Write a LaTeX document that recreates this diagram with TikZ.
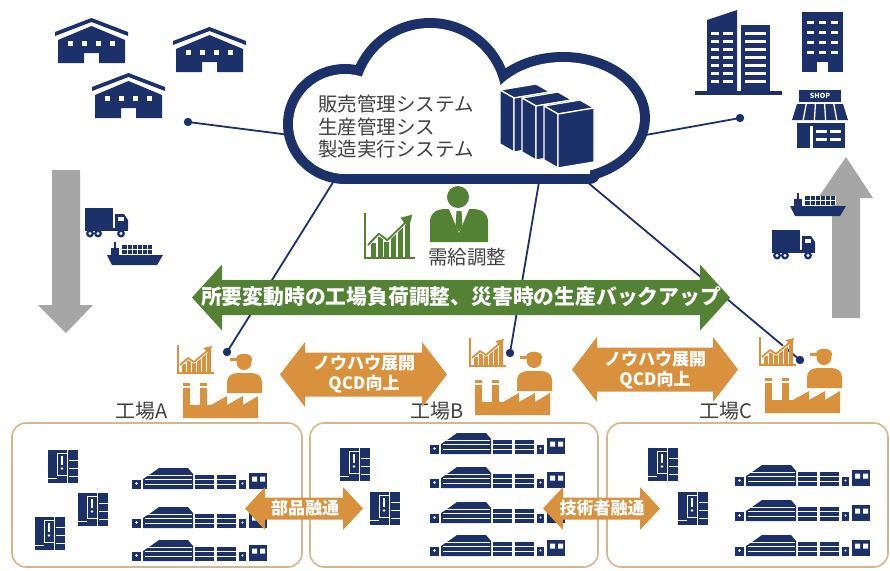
\documentclass[tikz,border=0pt]{standalone}
\usepackage{fontspec}
\setmainfont{Noto Sans CJK JP}

\definecolor{navy}{HTML}{1C3169}
\definecolor{leaf}{HTML}{548235}
\definecolor{amber}{HTML}{D9913D}
\definecolor{sand}{HTML}{D8B58A}
\definecolor{ink}{HTML}{404040}
\definecolor{steel}{HTML}{A6A6A6}

% two-headed arrow: colour, left tip, right tip, mid y, shaft half, head half, head length
\newcommand{\twoway}[7]{%
  \fill[#1] (#2,#4) -- ({#2+#7},{#4-#6}) -- ({#2+#7},{#4-#5}) -- ({#3-#7},{#4-#5})
    -- ({#3-#7},{#4-#6}) -- (#3,#4) -- ({#3-#7},{#4+#6}) -- ({#3-#7},{#4+#5})
    -- ({#2+#7},{#4+#5}) -- ({#2+#7},{#4+#6}) -- cycle;}

% cloud = union of lobes
\newcommand{\cloudparts}[1]{%
  \path[#1] (345,124) ellipse [x radius=52, y radius=50];
  \path[#1] (430,100) circle (72);
  \path[#1] (563,118) ellipse [x radius=77, y radius=56];
  \path[#1] (350,110) rectangle (590,174);}

\tikzset{
  warehouse/.pic={
    \fill[navy] (0,14) -- (36.5,0) -- (73,14) -- (73,18) -- (36.5,4) -- (0,18) -- cycle;
    \fill[navy] (3,22) -- (36.5,8) -- (70,22) -- (70,45) -- (44,45) -- (44,35) -- (29,35) -- (29,45) -- (3,45) -- cycle;
    \foreach \wx in {13,27,41,55} \fill[white] (\wx,23) rectangle ++(5,5);
  },
  truck/.pic={
    \fill[navy] (0,0) rectangle (28,20);
    \fill[navy] (30,6) -- (39,6) -- (43,12) -- (43,21) -- (30,21) -- cycle;
    \fill[white] (33,8.5) rectangle (38.5,12.5);
    \fill[navy] (0,20) rectangle (43,23);
    \foreach \tx in {5,13,36} {\fill[navy] (\tx,25.5) circle (4); \fill[white] (\tx,25.5) circle (1.6);}
  },
  ship/.pic={
    \fill[navy] (0,13) -- (56,13) -- (50,23) -- (5,23) -- cycle;
    \fill[navy] (4,6) rectangle (12,13);
    \draw[navy, line width=1.5] (8,0) -- (8,6);
    \fill[navy] (15,3) rectangle (46,12);
    \foreach \cx in {20,25,...,45} \draw[white, line width=0.9] (\cx,3) -- (\cx,12);
    \draw[white, line width=0.8] (15,7.5) -- (46,7.5);
  },
  rack/.pic={
    \filldraw[navy, draw=white, line width=1.3, line join=round] (0,0) -- (36,-6) -- (50,2) -- (14,8) -- cycle;
    \filldraw[navy, draw=white, line width=1.3, line join=round] (0,0) -- (14,8) -- (14,62) -- (0,54) -- cycle;
    \filldraw[navy, draw=white, line width=1.3, line join=round] (14,8) -- (50,2) -- (50,56) -- (14,62) -- cycle;
  },
  chart/.pic={
    \draw[line width=1.6] (0,0) -- (0,28) -- (36,28);
    \foreach \bx/\bh in {4/9,9/13,14/10,19/15,24/19,29/23}
      \fill (\bx,28) rectangle ++(3.6,-\bh);
    \draw[white, line width=3.4, line join=round] (2,20) -- (10,13) -- (16,17) -- (29,6);
    \draw[line width=1.8, line join=round] (2,20) -- (10,13) -- (16,17) -- (29,6);
    \fill (34,1) -- (25.5,3) -- (31.5,9.5) -- cycle;
  },
  worker/.pic={
    \fill (17,11.5) circle (7.5);
    \fill (9,8) .. controls (9,1) and (25,1) .. (25,8) -- cycle;
    \fill (3,7) rectangle (25,9.5);
    \fill (0,42) -- (0,31) .. controls (0,25) and (5,22) .. (11,22) -- (24,22)
      .. controls (30,22) and (35,25) .. (35,31) -- (35,42) -- cycle;
  },
  factory/.pic={
    \fill (0,0) rectangle (7,3);
    \fill (0,5) rectangle (7,24);
    \fill (17,0) rectangle (24,3);
    \fill (17,5) rectangle (24,24);
    \fill (0,35) -- (0,22) -- (28,22) -- (44,13) -- (44,22) -- (60,13) -- (60,22) -- (75,13) -- (75,35) -- cycle;
  },
  machine/.pic={
    \fill[navy] (0,0) rectangle (30,33);
    \draw[white, line width=1] (9,3) rectangle (19,25);
    \draw[white, line width=1.4] (14,6) -- (14,15);
    \fill[white] (14,18.5) circle (1.3);
    \draw[white, line width=1] (19,0) -- (19,33) (21,10) -- (30,10) (21,18) -- (30,18) (21,26) -- (30,26) (0,28) -- (9,28);
  },
  conveyor/.pic={
    \fill[navy] (0,13) rectangle (9,22);
    \fill[white] (4.5,16.5) circle (1.3);
    \fill[navy] (11,22) -- (11,12) -- (20,6) -- (27,1) -- (56,1) -- (61,7) -- (61,22) -- cycle;
    \foreach \sy in {8,12.5,17} \draw[white, line width=0.8] (13,\sy) -- (60,\sy);
    \foreach \bx in {63,85} {
      \fill[navy] (\bx,8) rectangle ++(19,14);
      \draw[white, line width=0.8] (\bx,12.5) -- ++(19,0) (\bx,17.5) -- ++(19,0);
    }
    \fill[navy] (107,13) rectangle (114,22);
    \fill[white] (110.5,16.5) circle (1.2);
    \fill[navy] (117,6) rectangle (135,22);
    \fill[white] (120,9.5) rectangle (125,14.5) (128,9.5) rectangle (133,14.5);
  }
}

\begin{document}
\begin{tikzpicture}[x=1pt, y=-1pt,
  lbl/.style={text=ink, font=\fontsize{20}{24}\selectfont, inner sep=0},
  tagtxt/.style={text=white, font=\bfseries\fontsize{17}{20}\selectfont, align=center, inner sep=0},
  link/.style={navy, line width=1.8},
  plantbox/.style={draw=sand, line width=1.6, rounded corners=14}]
\useasboundingbox (0,0) rectangle (890,570);

% flows in and out
\fill[steel] (52,170) -- (80,170) -- (80,305) -- (93,305) -- (66,333) -- (38,305) -- (52,305) -- cycle;
\fill[steel] (832,318) -- (860,318) -- (860,198) -- (873,198) -- (846,157) -- (818,198) -- (832,198) -- cycle;

% suppliers
\pic at (55,18) {warehouse};
\pic at (173,27) {warehouse};
\pic at (92,73) {warehouse};
\pic at (85,208) {truck};
\pic at (107,242) {ship};

% customers
\fill[navy] (707,20) -- (737,10) -- (737,92) -- (707,92) -- cycle;
\fill[navy] (741,25) rectangle (770,92);
\fill[navy] (695,91) rectangle (782,95);
\foreach \wy in {32,40,...,80} {
  \fill[white] (711,\wy) rectangle ++(8,2.5);
  \fill[white] (723,\wy) rectangle ++(10,2.5);
  \fill[white] (745,\wy) rectangle ++(21,2.5);
}
\fill[navy] (802,12) rectangle (843,72);
\foreach \wy in {21,31,41,51} \foreach \wx in {807,819,831} \fill[white] (\wx,\wy) rectangle ++(7,3);
\fill[white] (817,62) rectangle (828,72.5);
\fill[navy] (799,90) rectangle (841,102);
\node[font=\bfseries\fontsize{7}{8}\selectfont, text=white, inner sep=0] (shopsign) at (820,96) {SHOP};
\fill[navy] (797,104) -- (843,104) -- (848,120) -- (792,120) -- cycle;
\foreach \k in {1,...,4} \draw[white, line width=1.3] ({797+9.2*\k},104) -- ({792+11.2*\k},120);
\fill[navy] (797,123) rectangle (845,148);
\fill[white] (810,126) rectangle (812.5,148);
\foreach \wy in {130,138} {
  \fill[white] (816,\wy) rectangle ++(11,3);
  \fill[white] (830,\wy) rectangle ++(11,3);
}
\pic at (790,193) {ship};
\pic at (772,230) {truck};

% links to the cloud
\coordinate (pinSup) at (188,122);
\coordinate (cloudW) at (290,135);
\coordinate (pinCus) at (740,118);
\coordinate (cloudE) at (640,136);
\coordinate (pinA) at (227,352);
\coordinate (cloudA) at (337,176);
\coordinate (pinB) at (510,353);
\coordinate (cloudB) at (540,176);
\coordinate (pinC) at (800,360);
\coordinate (cloudC) at (580,176);
\draw[link] (pinSup) -- (cloudW);
\draw[link] (pinCus) -- (cloudE);
\draw[link] (cloudA) -- (pinA);
\draw[link] (cloudB) -- (pinB);
\draw[link] (cloudC) -- (pinC);
\fill[navy] (pinSup) circle (4.2);
\fill[navy] (pinCus) circle (4.2);

% cloud
\cloudparts{draw=navy, line width=20, line join=round}
\cloudparts{fill=white}
\pic at (500,90) {rack};
\pic at (522,98) {rack};
\pic at (544,106) {rack};
\node[lbl, anchor=west, align=left, font=\fontsize{19.5}{22.5}\selectfont] (systems) at (318,127)
  {販売管理システム\\生産管理シス\\製造実行システム};

% demand planning
\pic[color=leaf, xscale=1.39, yscale=1.6] at (365,213) {chart};
\fill[leaf] (458,197) circle (11);
\fill[leaf] (430,242) -- (430,222) .. controls (430,213) and (436,209) .. (446,209) -- (472,209)
  .. controls (482,209) and (488,213) .. (488,222) -- (488,242) -- cycle;
\fill[white] (449,209) -- (459,233) -- (469,209) -- cycle;
\fill[leaf] (456.5,211) -- (461.5,211) -- (462.5,226) -- (459,232) -- (455.5,226) -- cycle;
\node[lbl, font=\fontsize{19.5}{22}\selectfont] (demand) at (467,257) {需給調整};

\twoway{leaf}{192}{730}{297.5}{17.5}{33}{30}
\node[tagtxt, font=\bfseries\fontsize{20.8}{24}\selectfont] (backup) at (461,297)
  {所要変動時の工場負荷調整、災害時の生産バックアップ};

% plants
\foreach \cx/\cy/\wx/\wy/\fx/\fy in {178/345/227/351/183/383, 470/338/517/349/475/380, 760/337/807/346/765/378} {
  \pic[color=amber] at (\cx,\cy) {chart};
  \pic[color=amber] at (\wx,\wy) {worker};
  \pic[color=amber] at (\fx,\fy) {factory};
}
\fill[navy] (pinA) circle (4.2);
\fill[navy] (pinB) circle (4.2);
\fill[navy] (pinC) circle (4.2);
\node[lbl] (plantA) at (142,411) {工場A};
\node[lbl] (plantB) at (437,411) {工場B};
\node[lbl] (plantC) at (726,411) {工場C};

\twoway{amber}{280}{447}{374.5}{22}{32.5}{25}
\node[tagtxt] (knowhowAB) at (364,374) {ノウハウ展開\\QCD向上};
\twoway{amber}{572}{738}{369.5}{22}{32.5}{25}
\node[tagtxt] (knowhowBC) at (655,370) {ノウハウ展開\\QCD向上};

% shop floors
\draw[plantbox] (12,423) rectangle (302,567);
\draw[plantbox] (310,423) rectangle (598,567);
\draw[plantbox] (607,423) rectangle (888,567);
\pic at (48,450) {machine};
\pic at (78,493) {machine};
\pic at (35,517) {machine};
\foreach \ly in {467,506,539} \pic at (132,\ly) {conveyor};
\pic at (340,448) {machine};
\pic at (370,492) {machine};
\foreach \ly in {432,466,501,534} \pic at (430,\ly) {conveyor};
\pic at (648,448) {machine};
\pic at (678,492) {machine};
\foreach \ly in {464,499,534} \pic at (735,\ly) {conveyor};

\twoway{amber}{245}{363}{508.5}{11}{21.5}{20}
\node[tagtxt] (parts) at (305,508) {部品融通};
\twoway{amber}{543}{660}{508.5}{11}{21.5}{20}
\node[tagtxt] (staff) at (602,508) {技術者融通};
\end{tikzpicture}
\end{document}
